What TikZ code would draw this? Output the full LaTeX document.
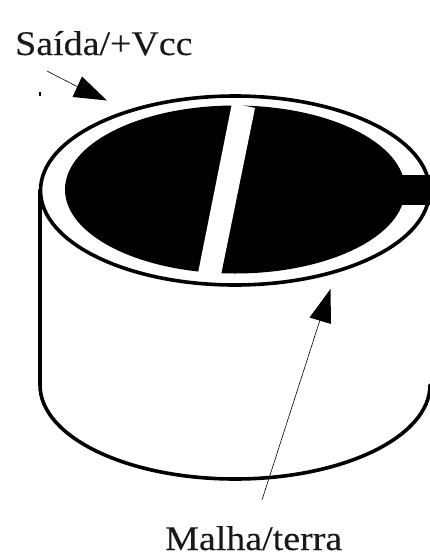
\documentclass[tikz,border=0pt]{standalone}
\usepackage{fontspec}
\setmainfont{Liberation Serif}
\newfontfamily\labelfont[FakeStretch=1.1,FakeBold=0.2]{Liberation Serif}
\tikzset{
  outline/.style={draw=black,line width=3.6pt},
  leader/.style={draw=black,line width=0.6pt},
  tiptri/.style={fill=black,draw=none},
  caption/.style={font=\labelfont\fontsize{34.5}{36}\selectfont,inner sep=0pt,text=black!90}
}
\begin{document}
\begin{tikzpicture}[x=1pt,y=-1pt]
\useasboundingbox (0,0) rectangle (430,555);
\fill[white] (0,0) rectangle (430,555);
% body
\draw[outline,line cap=round] (40,190) -- (40,385) arc[start angle=180,end angle=360,x radius=195pt,y radius=94pt];
% top rim
\draw[outline,fill=white] (235,190.5) ellipse[x radius=194.5pt,y radius=94.5pt];
% conductor
\fill[black] (235,189.5) ellipse[x radius=170pt,y radius=84pt];
\fill[black] (398,175) rectangle (430,205);
% gap
\fill[white] (232,103) -- (255,108) -- (221,275) -- (198,273) -- cycle;
% labels
\node[caption,anchor=base west] (saida) at (15,55) {Saída/+Vcc};
\node[caption,anchor=base west] (malha) at (165,550) {Malha/terra};
% top arrow
\coordinate (st) at (47,71);
\coordinate (sb) at (78,87);
\coordinate (sh) at (107,100.5);
\coordinate (sa) at (82,76.5);
\coordinate (sc) at (72.5,97);
\draw[leader] (st) -- (sb);
\fill[tiptri] (sh) -- (sa) -- (sc) -- cycle;
% bottom arrow
\coordinate (mt) at (262,500);
\coordinate (mb) at (320,320);
\coordinate (mh) at (330.5,289);
\coordinate (ma) at (309.5,317.5);
\coordinate (mc) at (331,324);
\draw[leader] (mt) -- (mb);
\fill[tiptri] (mh) -- (ma) -- (mc) -- cycle;
% specks
\fill[black] (39.3,91.5) rectangle (41,96);
\end{tikzpicture}
\end{document}
